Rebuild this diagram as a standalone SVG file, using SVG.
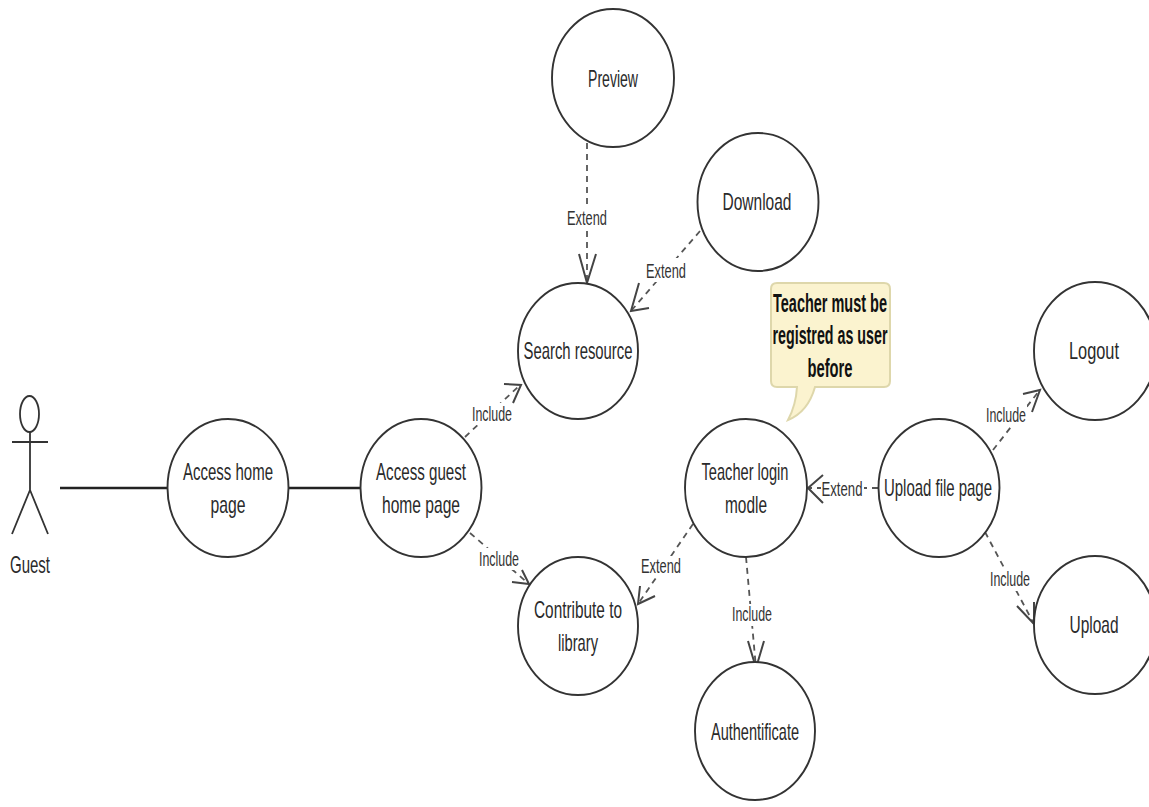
<svg xmlns="http://www.w3.org/2000/svg" width="1149" height="807" viewBox="0 0 1149 807">
<style>
.uc{fill:#fff;stroke:#333;stroke-width:1.900}
text{font-family:"Liberation Sans",Arial,sans-serif;fill:#2a2a2a;text-anchor:middle;font-size:24px}
.lb{font-size:21px;fill:#333}
.nt{font-size:25px;font-weight:bold;fill:#111}
.d{fill:none;stroke:#555;stroke-width:1.800;stroke-dasharray:6 5}
.a{fill:none;stroke:#444;stroke-width:2}
.s{fill:none;stroke:#222;stroke-width:2.400}
</style>
<rect width="1149" height="807" fill="#fff"/>
<g id="connectors">
<path class="s" d="M60 488H168"/>
<path class="s" d="M288 488H360"/>
<path class="d" d="M587 143V283"/>
<path class="a" d="M579 254L587 283L596 254"/>
<path class="d" d="M700 231L631 311"/>
<path class="a" d="M639 283L631 311L649 308"/>
<path class="d" d="M465 437L520 385"/>
<path class="a" d="M504 384L521 385L513 403"/>
<path class="d" d="M470 533L529 584"/>
<path class="a" d="M512 582L529 584L522 570"/>
<path class="d" d="M693 524L638 604"/>
<path class="a" d="M640 586L638 604L655 596"/>
<path class="d" d="M746 557L756 668"/>
<path class="a" d="M748 641L756 668L764 641"/>
<path class="d" d="M878 488H808"/>
<path class="a" d="M823 475L808 488L823 503"/>
<path class="d" d="M993 450L1039 391"/>
<path class="a" d="M1023 394L1040 390L1032 412"/>
<path class="d" d="M985 532L1034 624"/>
<path class="a" d="M1017 606L1034 624L1034 602"/>
</g>
<g id="actor-guest">
<ellipse cx="29.500" cy="414" rx="9.500" ry="18" fill="#fff" stroke="#333" stroke-width="1.800"/>
<path d="M30 432V490M12 442H48M30 490L12 534M30 490L48 534" fill="none" stroke="#333" stroke-width="1.800"/>
<text x="30" y="573" textLength="40" lengthAdjust="spacingAndGlyphs">Guest</text>
</g>
<g id="access-home"><ellipse class="uc" cx="228" cy="488" rx="60.500" ry="69"/>
<text x="228" y="480" textLength="90" lengthAdjust="spacingAndGlyphs">Access home</text><text x="228" y="513" textLength="35" lengthAdjust="spacingAndGlyphs">page</text></g>
<g id="access-guest"><ellipse class="uc" cx="421" cy="488" rx="60.500" ry="69"/>
<text x="421" y="480" textLength="90" lengthAdjust="spacingAndGlyphs">Access guest</text><text x="421" y="513" textLength="78" lengthAdjust="spacingAndGlyphs">home page</text></g>
<g id="search"><ellipse class="uc" cx="578" cy="351" rx="60" ry="68"/>
<text x="578" y="359" textLength="109" lengthAdjust="spacingAndGlyphs">Search resource</text></g>
<g id="contribute"><ellipse class="uc" cx="578" cy="626" rx="60" ry="69"/>
<text x="578" y="618" textLength="88" lengthAdjust="spacingAndGlyphs">Contribute to</text><text x="578" y="651" textLength="40" lengthAdjust="spacingAndGlyphs">library</text></g>
<g id="preview"><ellipse class="uc" cx="613" cy="78" rx="61" ry="69"/>
<text x="613" y="87" textLength="50" lengthAdjust="spacingAndGlyphs">Preview</text></g>
<g id="download"><ellipse class="uc" cx="758" cy="202" rx="60.500" ry="69"/>
<text x="757" y="210" textLength="69" lengthAdjust="spacingAndGlyphs">Download</text></g>
<g id="teacher-login"><ellipse class="uc" cx="746" cy="488" rx="61" ry="69"/>
<text x="745" y="480" textLength="87" lengthAdjust="spacingAndGlyphs">Teacher login</text><text x="746" y="513" textLength="42" lengthAdjust="spacingAndGlyphs">modle</text></g>
<g id="upload-file"><ellipse class="uc" cx="939" cy="488" rx="60.500" ry="69"/>
<text x="938" y="496" textLength="108" lengthAdjust="spacingAndGlyphs">Upload file page</text></g>
<g id="logout"><ellipse class="uc" cx="1095" cy="351" rx="61" ry="69"/>
<text x="1094" y="359" textLength="50" lengthAdjust="spacingAndGlyphs">Logout</text></g>
<g id="upload"><ellipse class="uc" cx="1095" cy="625" rx="61" ry="69"/>
<text x="1094" y="633" textLength="49" lengthAdjust="spacingAndGlyphs">Upload</text></g>
<g id="authenticate"><ellipse class="uc" cx="755" cy="731" rx="60" ry="69"/>
<text x="755" y="740" textLength="88" lengthAdjust="spacingAndGlyphs">Authentificate</text></g>
<g id="note">
<path d="M777 283H884Q890 283 890 289V381Q890 387 884 387H815Q808 412 788 420Q796 405 797 387H777Q771 387 771 381V289Q771 283 777 283Z" fill="#fbf3cf" stroke="#ded7ab" stroke-width="2"/>
<text class="nt" x="830" y="312" textLength="114" lengthAdjust="spacingAndGlyphs">Teacher must be</text>
<text class="nt" x="830" y="344" textLength="115" lengthAdjust="spacingAndGlyphs">registred as user</text>
<text class="nt" x="830" y="377" textLength="45" lengthAdjust="spacingAndGlyphs">before</text>
</g>
<g id="labels">
<rect x="565" y="206" width="42" height="24" fill="#fff"/>
<text class="lb" x="587" y="225" textLength="40" lengthAdjust="spacingAndGlyphs">Extend</text>
<rect x="645" y="258" width="42" height="24" fill="#fff"/>
<text class="lb" x="666" y="278" textLength="40" lengthAdjust="spacingAndGlyphs">Extend</text>
<rect x="471" y="403" width="42" height="22" fill="#fff"/>
<text class="lb" x="492" y="421" textLength="40" lengthAdjust="spacingAndGlyphs">Include</text>
<rect x="478" y="548" width="42" height="22" fill="#fff"/>
<text class="lb" x="499" y="566" textLength="40" lengthAdjust="spacingAndGlyphs">Include</text>
<rect x="640" y="556" width="42" height="22" fill="#fff"/>
<text class="lb" x="661" y="573" textLength="40" lengthAdjust="spacingAndGlyphs">Extend</text>
<rect x="731" y="604" width="42" height="22" fill="#fff"/>
<text class="lb" x="752" y="621" textLength="40" lengthAdjust="spacingAndGlyphs">Include</text>
<rect x="821" y="478" width="43" height="20" fill="#fff"/>
<text class="lb" x="842" y="496" textLength="41" lengthAdjust="spacingAndGlyphs">Extend</text>
<rect x="985" y="405" width="42" height="22" fill="#fff"/>
<text class="lb" x="1006" y="422" textLength="40" lengthAdjust="spacingAndGlyphs">Include</text>
<rect x="989" y="569" width="42" height="22" fill="#fff"/>
<text class="lb" x="1010" y="586" textLength="40" lengthAdjust="spacingAndGlyphs">Include</text>
</g>
</svg>
